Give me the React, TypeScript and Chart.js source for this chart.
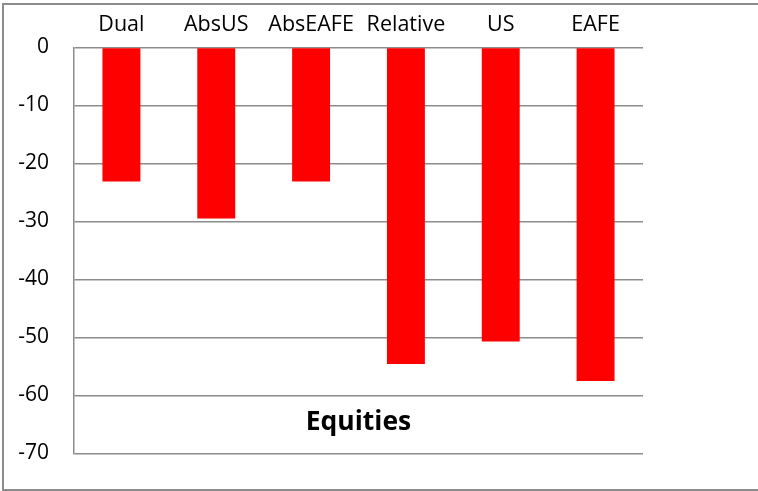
import React, { useEffect, useRef } from "react";
import { Chart, registerables } from "chart.js";

Chart.register(...registerables);

const categories = ["Dual", "AbsUS", "AbsEAFE", "Relative", "US", "EAFE"];
const values = [-23.1, -29.5, -23.1, -54.6, -50.7, -57.5];
const chartTitle = "Equities";
const yMin = -70;
const yMax = 0;
const yStep = 10;

const FONT = "'Open Sans', 'Liberation Sans', sans-serif";
const GRID = "#8c8c8c";

const framePlugin = {
  id: "frame",
  beforeDraw(chart: any) {
    const ctx = chart.ctx;
    ctx.save();
    ctx.strokeStyle = GRID;
    ctx.lineWidth = 2;
    ctx.strokeRect(3, 4, 770, 486);
    ctx.restore();
  },
  afterDraw(chart: any) {
    const { ctx, chartArea } = chart;
    ctx.save();
    ctx.fillStyle = "#000";
    ctx.font = `bold 26.5px ${FONT}`;
    ctx.textAlign = "center";
    ctx.textBaseline = "middle";
    ctx.fillText(chartTitle, (chartArea.left + chartArea.right) / 2, chartArea.bottom - 31);
    ctx.restore();
  },
};

export default function App() {
  const ref = useRef<HTMLCanvasElement>(null);
  useEffect(() => {
    if (!ref.current) return;
    const chart = new Chart(ref.current, {
      type: "bar",
      data: {
        labels: categories,
        datasets: [
          {
            data: values,
            backgroundColor: "#ff0000",
            borderWidth: 0,
            barPercentage: 0.4,
            categoryPercentage: 1,
          },
        ],
      },
      options: {
        animation: false,
        responsive: false,
        layout: { padding: { left: 0, top: 0, right: 115, bottom: 36 } },
        plugins: { legend: { display: false }, tooltip: { enabled: false }, title: { display: false } },
        scales: {
          x: {
            position: "top",
            grid: { display: false, drawTicks: false },
            border: { display: false },
            ticks: { color: "#000", font: { family: FONT, size: 21.5 }, padding: 10, maxRotation: 0, autoSkip: false },
            afterFit: (s: any) => {
              s.height = 47.5;
            },
          },
          y: {
            min: yMin,
            max: yMax,
            grid: { color: GRID, lineWidth: 1.5, drawTicks: false },
            border: { display: true, color: GRID, width: 1.5 },
            ticks: { stepSize: yStep, color: "#000", font: { family: FONT, size: 21 }, padding: 25 },
            afterFit: (s: any) => {
              s.width = 74;
            },
          },
        },
      },
      plugins: [framePlugin],
    });
    return () => chart.destroy();
  }, []);
  return (
    <div style={{ position: "fixed", left: 0, top: 0, width: 758, height: 491, background: "#fff" }}>
      <canvas ref={ref} width={758} height={491} style={{ display: "block" }} />
    </div>
  );
}
